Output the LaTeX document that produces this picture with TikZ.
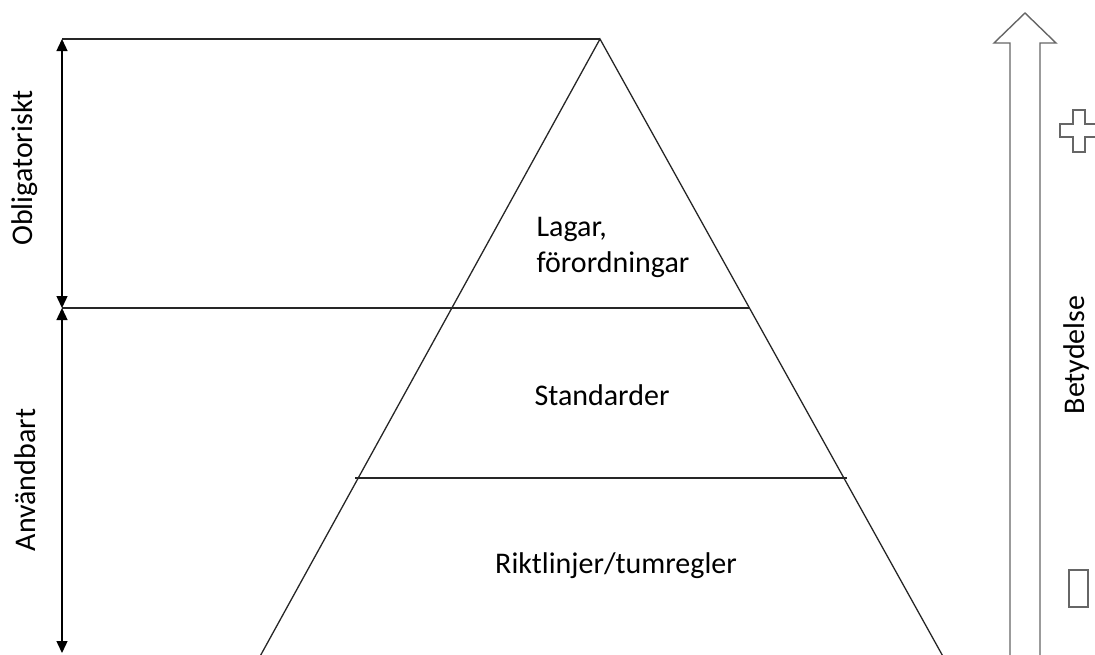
\documentclass[tikz,border=0pt]{standalone}
\usepackage{fontspec}
\setmainfont{Carlito}
\usetikzlibrary{arrows.meta}
\begin{document}
\begin{tikzpicture}[x=1pt,y=-1pt,
  lbl/.style={font=\fontsize{30}{36}\selectfont, inner sep=0pt},
  edge/.style={draw=black!85, line width=1.3pt},
  dim/.style={draw=black, line width=1.4pt, {Triangle[length=12pt,width=11pt]}-{Triangle[length=12pt,width=11pt]}},
  block/.style={draw=black!60, line width=1.4pt, fill=white}]
\useasboundingbox (0,0) rectangle (1095,654);
% key points
\coordinate (apex) at (600,39);
\coordinate (bl) at (258,660);
\coordinate (br) at (945,660);
\coordinate (tl) at (62,39);
\coordinate (m1l) at (62,308);
\coordinate (m1r) at (750,308);
\coordinate (m2l) at (355,478);
\coordinate (m2r) at (847,478);
\coordinate (bot) at (62,653);
% triangle
\draw[edge] (bl) -- (apex) -- (br);
\draw[edge] (tl) -- (apex);
\draw[edge] (m1l) -- (m1r);
\draw[edge] (m2l) -- (m2r);
% dimension arrows
\draw[dim] (tl) -- (m1l);
\draw[dim] (m1l) -- (bot);
% labels
\node[lbl, align=left] (lagar) at (613,247) {Lagar,\\förordningar};
\node[lbl] (std) at (602,395) {Standarder};
\node[lbl] (rikt) at (616,566) {Riktlinjer/tumregler};
\node[lbl, rotate=90] (obl) at (25,168) {Obligatoriskt};
\node[lbl, rotate=90] (anv) at (25,480) {Användbart};
\node[lbl, rotate=90] (bet) at (1076,355) {Betydelse};
% block arrow
\draw[block] (1010,660) -- (1010,43) -- (994,43) -- (1025,13) -- (1056,43) -- (1040,43) -- (1040,660);
% plus
\draw[block] (1073,110) -- (1085,110) -- (1085,124) -- (1099,124) -- (1099,137) -- (1085,137) -- (1085,152) -- (1073,152) -- (1073,137) -- (1060,137) -- (1060,124) -- (1073,124) -- cycle;
% minus (tall box)
\draw[block] (1069,570) rectangle (1088,607);
\end{tikzpicture}
\end{document}
